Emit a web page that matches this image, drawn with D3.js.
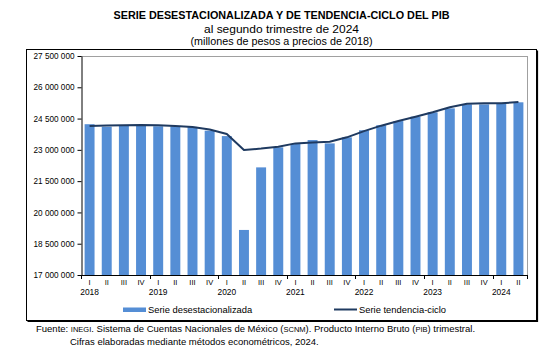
<!DOCTYPE html>
<html>
<head>
<meta charset="utf-8">
<script src="https://cdn.jsdelivr.net/npm/d3@7"></script>
<style>
  html, body { margin: 0; padding: 0; background: #fff; }
  svg { display: block; font-family: "Liberation Sans", Arial, sans-serif; }
</style>
</head>
<body>
<svg id="chart" width="554" height="357"></svg>
<script>
// ---- data ----
const years = [2018, 2019, 2020, 2021, 2022, 2023, 2024];
const quarters = ["I", "II", "III", "IV"];
const desestacionalizada = [
  24230000, 24110000, 24180000, 24190000,
  24130000, 24130000, 24100000, 23920000,
  23660000, 19160000, 22160000, 23120000,
  23280000, 23470000, 23310000, 23600000,
  23940000, 24180000, 24380000, 24590000,
  24800000, 24990000, 25180000, 25180000,
  25210000, 25280000
];
const tendenciaCiclo = [
  24140000, 24170000, 24180000, 24190000,
  24180000, 24140000, 24100000, 23980000,
  23760000, 22990000, 23060000, 23150000,
  23310000, 23350000, 23390000, 23600000,
  23900000, 24160000, 24380000, 24590000,
  24800000, 25040000, 25210000, 25230000,
  25230000, 25290000
];
const yTickValues = [17000000, 18500000, 20000000, 21500000, 23000000, 24500000, 26000000, 27500000];
const titleLines = [
  "SERIE DESESTACIONALIZADA Y DE TENDENCIA-CICLO DEL PIB",
  "al segundo trimestre de 2024",
  "(millones de pesos a precios de 2018)"
];
const legendLabels = ["Serie desestacionalizada", "Serie tendencia-ciclo"];

// periods
const periods = [];
years.forEach(y => quarters.forEach(q => periods.push({ year: y, q })));
const cats = periods.slice(0, desestacionalizada.length).map(p => p.year + "-" + p.q);

// ---- layout ----
const svg = d3.select("#chart");
const plot = { left: 81, right: 527, top: 56, bottom: 275 };
const box = { left: 26.5, right: 536.5, top: 49.5, bottom: 320.5 };
const barColor = "#558ed5";
const lineColor = "#1f3a60";

const x = d3.scaleBand().domain(cats).range([plot.left, plot.right])
  .paddingInner(0.42).paddingOuter(0.21);
const y = d3.scaleLinear().domain([17000000, 27500000]).range([plot.bottom, plot.top]);

// outer box with shadow
svg.append("rect").attr("x", box.left).attr("y", box.top)
  .attr("width", box.right - box.left).attr("height", box.bottom - box.top)
  .attr("fill", "none").attr("stroke", "#000").attr("stroke-width", 1);
svg.append("line").attr("x1", box.right + 1).attr("x2", box.right + 1)
  .attr("y1", box.top + 1).attr("y2", box.bottom + 1.5).attr("stroke", "#000").attr("stroke-width", 1.2);
svg.append("line").attr("x1", box.left + 1).attr("x2", box.right + 1.5)
  .attr("y1", box.bottom + 1).attr("y2", box.bottom + 1).attr("stroke", "#000").attr("stroke-width", 1.2);

// title
const cx = (box.left + box.right) / 2;
svg.append("text").attr("x", cx).attr("y", 18.5).attr("text-anchor", "middle")
  .attr("font-size", "10.5px").attr("font-weight", "bold").attr("fill", "#000")
  .attr("textLength", 336).attr("lengthAdjust", "spacingAndGlyphs")
  .text(titleLines[0]);
svg.append("text").attr("x", cx).attr("y", 32.5).attr("text-anchor", "middle")
  .attr("font-size", "11px").attr("fill", "#000")
  .attr("textLength", 155).attr("lengthAdjust", "spacingAndGlyphs")
  .text(titleLines[1]);
svg.append("text").attr("x", cx).attr("y", 44.5).attr("text-anchor", "middle")
  .attr("font-size", "10px").attr("fill", "#000")
  .attr("textLength", 182).attr("lengthAdjust", "spacingAndGlyphs")
  .text(titleLines[2]);

// plot border (gray top & right)
svg.append("line").attr("x1", plot.left).attr("x2", plot.right)
  .attr("y1", plot.top + 0.5).attr("y2", plot.top + 0.5).attr("stroke", "#a0a0a0").attr("stroke-width", 1);
svg.append("line").attr("x1", plot.right + 0.5).attr("x2", plot.right + 0.5)
  .attr("y1", plot.top).attr("y2", plot.bottom).attr("stroke", "#a0a0a0").attr("stroke-width", 1);

// bars
svg.append("g").selectAll("rect").data(desestacionalizada).join("rect")
  .attr("x", (d, i) => x(cats[i]))
  .attr("width", x.bandwidth())
  .attr("y", d => y(d))
  .attr("height", d => plot.bottom - y(d))
  .attr("fill", barColor);

// trend line
const line = d3.line()
  .x((d, i) => x(cats[i]) + x.bandwidth() / 2)
  .y(d => y(d));
svg.append("path").datum(tendenciaCiclo)
  .attr("d", line).attr("fill", "none")
  .attr("stroke", lineColor).attr("stroke-width", 2).attr("stroke-linejoin", "round");

// y axis
const fmt = v => d3.format(",")(v).replace(/,/g, " ");
const yAxis = svg.append("g").attr("transform", `translate(${plot.left + 0.5},0)`)
  .call(d3.axisLeft(y).tickValues(yTickValues).tickSize(4).tickSizeOuter(0).tickPadding(3).tickFormat(fmt));
yAxis.selectAll("text").attr("font-size", "8.2px").attr("fill", "#000")
  .attr("font-family", "'Liberation Sans', Arial, sans-serif");
yAxis.selectAll("line").attr("stroke", "#000");
yAxis.select(".domain").attr("stroke", "#000");

// x axis line
svg.append("line").attr("x1", plot.left).attr("x2", plot.right + 1)
  .attr("y1", plot.bottom + 0.5).attr("y2", plot.bottom + 0.5).attr("stroke", "#000").attr("stroke-width", 1);

// year boundary ticks
const step = x.step();
const boundaries = cats.map((c, i) => ({ c, i })).filter(d => d.i % 4 === 0)
  .map(d => x(d.c) - step * x.paddingInner() / 2);
boundaries.push(plot.right);
svg.append("g").selectAll("line").data(boundaries).join("line")
  .attr("x1", d => Math.round(d) + 0.5).attr("x2", d => Math.round(d) + 0.5)
  .attr("y1", plot.bottom).attr("y2", plot.bottom + 4)
  .attr("stroke", "#000").attr("stroke-width", 1);

// quarter labels
svg.append("g").selectAll("text").data(cats).join("text")
  .attr("x", d => x(d) + x.bandwidth() / 2)
  .attr("y", 285)
  .attr("text-anchor", "middle").attr("font-size", "7.5px").attr("fill", "#000")
  .text((d, i) => periods[i].q);

// year labels (under first quarter)
svg.append("g").selectAll("text").data(years).join("text")
  .attr("x", (d, i) => x(cats[i * 4]) + x.bandwidth() / 2)
  .attr("y", 294.5)
  .attr("text-anchor", "middle").attr("font-size", "8.4px").attr("fill", "#000")
  .text(d => d);

// legend
svg.append("rect").attr("x", 123).attr("y", 307.5).attr("width", 23).attr("height", 4.5).attr("fill", barColor);
svg.append("text").attr("x", 148).attr("y", 313).attr("font-size", "9.4px").attr("fill", "#000").text(legendLabels[0]);
svg.append("line").attr("x1", 334).attr("x2", 357).attr("y1", 309.5).attr("y2", 309.5)
  .attr("stroke", lineColor).attr("stroke-width", 2);
svg.append("text").attr("x", 359).attr("y", 313).attr("font-size", "9.4px").attr("fill", "#000").text(legendLabels[1]);

// footer
const f1 = svg.append("text").attr("x", 36).attr("y", 331.5).attr("font-size", "9.5px").attr("fill", "#000");
const parts1 = [
  ["Fuente: ", 9.5], ["INEGI", 7.5], [". Sistema de Cuentas Nacionales de México (", 9.5], ["SCNM", 7.5],
  ["). Producto Interno Bruto (", 9.5], ["PIB", 7.5], [") trimestral.", 9.5]
];
parts1.forEach(p => f1.append("tspan").attr("font-size", p[1] + "px").text(p[0]));
svg.append("text").attr("x", 70).attr("y", 344.5).attr("font-size", "9.5px").attr("fill", "#000")
  .text("Cifras elaboradas mediante métodos econométricos, 2024.");
</script>
</body>
</html>
